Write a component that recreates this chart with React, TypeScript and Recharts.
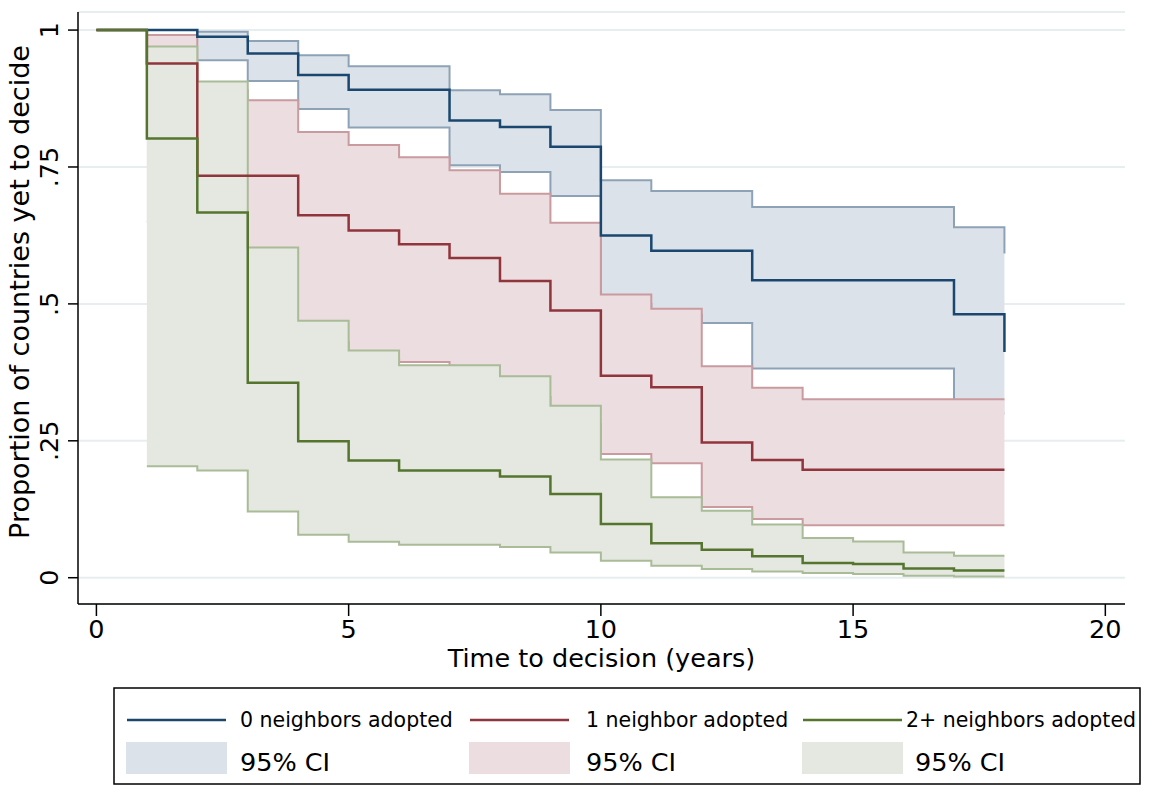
import React from 'react';
import { ComposedChart, Area, Line, XAxis, YAxis, CartesianGrid } from 'recharts';

// Kaplan-Meier estimates by number of neighbours that already adopted
const years = [0, 1, 2, 3, 4, 5, 6, 7, 8, 9, 10, 11, 12, 13, 14, 15, 16, 17, 18];

const est0 = [1, 1, 0.988, 0.957, 0.918, 0.891, 0.891, 0.835, 0.823, 0.787, 0.625, 0.597, 0.597, 0.543, 0.543, 0.543, 0.543, 0.481, 0.412];
const hi0 = [null, null, 0.997, 0.98, 0.954, 0.934, 0.934, 0.89, 0.883, 0.854, 0.726, 0.706, 0.706, 0.677, 0.677, 0.677, 0.677, 0.64, 0.592];
const lo0 = [null, null, 0.945, 0.907, 0.856, 0.822, 0.822, 0.753, 0.741, 0.697, 0.5, 0.48, 0.465, 0.382, 0.382, 0.382, 0.382, 0.3, 0.3];

const est1 = [1, 0.939, 0.734, 0.734, 0.662, 0.634, 0.609, 0.584, 0.542, 0.488, 0.369, 0.348, 0.247, 0.215, 0.197, 0.197, 0.197, 0.197, 0.197];
const hi1 = [null, 0.991, 0.89, 0.872, 0.814, 0.79, 0.768, 0.744, 0.701, 0.648, 0.517, 0.491, 0.386, 0.347, 0.326, 0.326, 0.326, 0.326, 0.326];
const lo1 = [null, 0.65, 0.45, 0.45, 0.43, 0.4, 0.394, 0.37, 0.33, 0.28, 0.226, 0.209, 0.129, 0.107, 0.096, 0.096, 0.096, 0.096, 0.096];

const est2 = [1, 0.802, 0.667, 0.356, 0.249, 0.214, 0.196, 0.196, 0.185, 0.153, 0.098, 0.063, 0.051, 0.039, 0.027, 0.025, 0.017, 0.013, 0.013];
const hi2 = [null, 0.97, 0.906, 0.603, 0.469, 0.415, 0.388, 0.388, 0.368, 0.314, 0.216, 0.147, 0.1225, 0.097, 0.0725, 0.066, 0.046, 0.04, 0.04];
const lo2 = [null, 0.2035, 0.1956, 0.1207, 0.0786, 0.0658, 0.06, 0.06, 0.056, 0.046, 0.031, 0.022, 0.016, 0.0115, 0.0085, 0.0067, 0.0037, 0.0024, 0.0024];

const xTicks = [0, 5, 10, 15, 20];
const yTicks = [0, 0.25, 0.5, 0.75, 1];
const yTickLabels = ['0', '.25', '.5', '.75', '1'];

const seriesNames = ['0 neighbors adopted', '1 neighbor adopted', '2+ neighbors adopted'];
const ciName = '95% CI';

const band = (lo: (number | null)[], hi: (number | null)[], i: number) =>
  lo[i] == null || hi[i] == null ? null : [lo[i], hi[i]];

const data = years.map((t, i) => ({
  t,
  s0: est0[i],
  s1: est1[i],
  s2: est2[i],
  ci0: band(lo0, hi0, i),
  ci1: band(lo1, hi1, i),
  ci2: band(lo2, hi2, i),
}));

const FONT = '"DejaVu Sans", sans-serif';
const lineColors = ['#1a476f', '#90353b', '#55752f'];
const ciFills = ['#dce2e9', '#ecdde0', '#e5e8e0'];
const ciStrokes = ['#8ea2b7', '#c99a9e', '#a9bb97'];

const YTick = (props: any) => {
  const { x, y, payload } = props;
  const idx = yTicks.indexOf(payload.value);
  return (
    <text
      x={x}
      y={y}
      transform={`rotate(-90 ${x} ${y})`}
      textAnchor="middle"
      fontSize={25.5}
      fontFamily={FONT}
      fill="#000"
    >
      {idx >= 0 ? yTickLabels[idx] : payload.value}
    </text>
  );
};

const YTitle = (props: any) => {
  const vb = props.viewBox;
  const cx = vb.x + 29;
  const cy = vb.y + 280;
  return (
    <text x={cx} y={cy} transform={`rotate(-90 ${cx} ${cy})`} textAnchor="middle" fontSize={27} fontFamily={FONT} fill="#000">
      Proportion of countries yet to decide
    </text>
  );
};

const XTitle = (props: any) => {
  const vb = props.viewBox;
  return (
    <text x={vb.x + vb.width / 2} y={vb.y + 63} textAnchor="middle" fontSize={25.5} fontFamily={FONT} fill="#000">
      Time to decision (years)
    </text>
  );
};

const legendCols = [
  { sample: 127, text: 240, ciText: 240 },
  { sample: 470, text: 586, ciText: 586 },
  { sample: 803, text: 906, ciText: 915 },
];

const ChartLegend = () => (
  <svg width={1155} height={120} style={{ position: 'absolute', left: 0, top: 680 }}>
    <rect x={114} y={8} width={1026} height={96} fill="#fff" stroke="#000" strokeWidth={1.5} />
    {seriesNames.map((name, i) => (
      <g key={name}>
        <line x1={legendCols[i].sample} x2={legendCols[i].sample + 99} y1={40} y2={40} stroke={lineColors[i]} strokeWidth={2.5} />
        <text x={legendCols[i].text} y={46.5} fontSize={20.5} fontFamily={FONT} fill="#000">{name}</text>
        <rect x={legendCols[i].sample - 1} y={62} width={101} height={32} fill={ciFills[i]} />
        <text x={legendCols[i].ciText} y={91} fontSize={25.5} fontFamily={FONT} fill="#000">{ciName}</text>
      </g>
    ))}
  </svg>
);

export default function App() {
  return (
    <div style={{ position: 'absolute', left: 0, top: 0, width: 1155, height: 800, background: '#fff' }}>
      <ComposedChart width={1155} height={680} data={data} margin={{ top: 12, right: 30, bottom: 0, left: 0 }}>
        <CartesianGrid horizontal vertical={false} stroke="#e7eeef" strokeWidth={2} />
        <XAxis
          dataKey="t"
          type="number"
          domain={[-0.365, 20.39]}
          ticks={xTicks}
          height={76}
          tickSize={12}
          tickMargin={4}
          axisLine={{ stroke: '#000', strokeWidth: 1.5 }}
          tickLine={{ stroke: '#000', strokeWidth: 1.5 }}
          tick={{ fill: '#000', fontSize: 25.5, fontFamily: FONT }}
          label={XTitle}
        />
        <YAxis
          type="number"
          domain={[-0.048, 1.033]}
          ticks={yTicks}
          width={78}
          tickSize={10}
          tickMargin={10}
          axisLine={{ stroke: '#000', strokeWidth: 1.5 }}
          tickLine={{ stroke: '#000', strokeWidth: 1.5 }}
          tick={YTick}
          label={YTitle}
        />
        <Area type="stepAfter" dataKey="ci0" fill={ciFills[0]} fillOpacity={1} stroke={ciStrokes[0]} strokeWidth={2} dot={false} activeDot={false} isAnimationActive={false} />
        <Area type="stepAfter" dataKey="ci1" fill={ciFills[1]} fillOpacity={1} stroke={ciStrokes[1]} strokeWidth={2} dot={false} activeDot={false} isAnimationActive={false} />
        <Area type="stepAfter" dataKey="ci2" fill={ciFills[2]} fillOpacity={1} stroke={ciStrokes[2]} strokeWidth={2} dot={false} activeDot={false} isAnimationActive={false} />
        <Line type="stepAfter" dataKey="s0" stroke={lineColors[0]} strokeWidth={2.5} dot={false} activeDot={false} isAnimationActive={false} />
        <Line type="stepAfter" dataKey="s1" stroke={lineColors[1]} strokeWidth={2.5} dot={false} activeDot={false} isAnimationActive={false} />
        <Line type="stepAfter" dataKey="s2" stroke={lineColors[2]} strokeWidth={2.5} dot={false} activeDot={false} isAnimationActive={false} />
      </ComposedChart>
      <ChartLegend />
    </div>
  );
}
